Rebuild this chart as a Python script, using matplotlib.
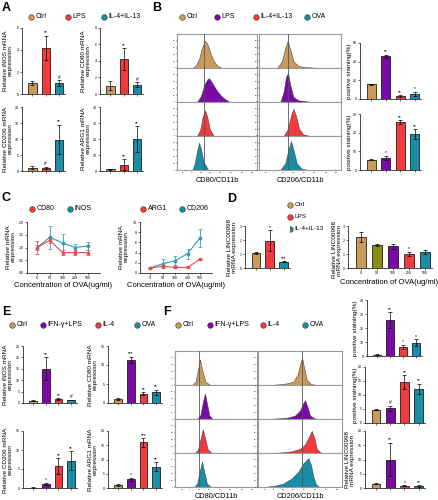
import numpy as np
import matplotlib
matplotlib.use('Agg')
import matplotlib.pyplot as plt

plt.rcParams['font.family'] = ['Liberation Sans', 'DejaVu Sans']

CTRL = '#C99A5B'
RED = '#F23B3F'
TEAL = '#1B8CA6'
PURP = '#7A0AA6'
OLIVE = '#8C8C14'
LBLUE = '#2A9BBE'
LRED = '#F2484B'

# ---- data ----
# panel A (qPCR, Ctrl / LPS / IL-4+IL-13)
a_inos = [1.0, 4.2, 1.0]
a_inos_err = [0.15, 1.1, 0.25]
a_inos_sig = ['', '**', '#']
a_cd80 = [1.0, 4.2, 1.1]
a_cd80_err = [0.55, 1.35, 0.3]
a_cd80_sig = ['', '**', '#']
a_cd206 = [1.0, 1.0, 9.8]
a_cd206_err = [0.5, 0.4, 4.6]
a_cd206_sig = ['', '#', '**']
a_arg1 = [1.0, 4.0, 20.0]
a_arg1_err = [0.3, 3.3, 8.0]
a_arg1_sig = ['', '**', '**']

# panel B (flow, Ctrl / LPS / IL-4+IL-13 / OVA)
b_cd80_pos = [16, 46, 3, 5.5]
b_cd80_err = [0.6, 1.6, 1.0, 2.0]
b_cd80_sig = ['', '**', '**', '*']
b_cd206_pos = [5.4, 6.4, 25.7, 19.3]
b_cd206_err = [0.3, 1.2, 1.0, 2.5]
b_cd206_sig = ['', '*', '**', '**']

# histogram shapes (fluorescence position, relative count)
b_hist_cd80 = [
    [(1.9, 0), (2.4, 0.08), (2.8, 0.3), (3.1, 0.58), (3.5, 0.8), (3.8, 0.7), (4.2, 0.42), (4.6, 0.2), (5.0, 0.08), (5.6, 0)],
    [(2.5, 0), (3.0, 0.18), (3.4, 0.5), (3.8, 0.67), (4.0, 0.7), (4.4, 0.56), (4.8, 0.4), (5.3, 0.24), (5.8, 0.12), (6.6, 0)],
    [(2.5, 0), (2.9, 0.18), (3.2, 0.55), (3.5, 0.75), (3.8, 0.55), (4.1, 0.2), (4.6, 0)],
    [(1.9, 0), (2.2, 0.18), (2.5, 0.55), (2.75, 0.8), (3.0, 0.62), (3.3, 0.25), (3.9, 0)],
]
b_hist_cd206 = [
    [(2.2, 0), (2.8, 0.2), (3.2, 0.6), (3.5, 0.8), (3.8, 0.55), (4.2, 0.2), (4.8, 0.06), (5.5, 0.03), (7.5, 0)],
    [(2.6, 0), (3.0, 0.3), (3.3, 0.75), (3.55, 0.85), (3.8, 0.5), (4.2, 0.15), (4.8, 0.05), (5.6, 0.03), (6.2, 0)],
    [(3.0, 0), (3.5, 0.2), (3.9, 0.6), (4.2, 0.8), (4.5, 0.6), (4.9, 0.2), (5.4, 0.05), (6.2, 0)],
    [(2.6, 0), (3.2, 0.2), (3.6, 0.6), (3.9, 0.85), (4.2, 0.6), (4.6, 0.2), (5.2, 0.04), (6.0, 0)],
]

# panel C (OVA dose)
ova_conc = ['0', '50', '100', '200', '500']
c_cd80 = [1.0, 1.28, 0.8, 0.8, 0.8]
c_cd80_err = [0.25, 0.12, 0.1, 0.1, 0.1]
c_inos = [1.0, 1.4, 1.18, 1.0, 1.06]
c_inos_err = [0.1, 0.45, 0.35, 0.12, 0.15]
c_arg1 = [1.0, 1.3, 1.1, 1.1, 2.7]
c_arg1_err = [0.1, 0.3, 0.2, 0.2, 0.1]
c_cd206 = [1.0, 1.8, 2.4, 3.8, 6.9]
c_cd206_err = [0.15, 0.9, 0.9, 1.0, 1.8]

# panel D
d_linc = [1.08, 1.95, 0.45]
d_linc_err = [0.06, 0.75, 0.03]
d_linc_sig = ['', '*', '***']
d_ova_conc = ['0', '50', '100', '250', '500']
d_linc_ova = [2.2, 1.65, 1.55, 1.0, 1.15]
d_linc_ova_err = [0.35, 0.05, 0.2, 0.15, 0.15]
d_linc_ova_sig = ['', '', '', '*', '']

# panel E (Ctrl / IFN-γ+LPS / IL-4 / OVA)
e_inos = [1.0, 15.0, 1.8, 1.3]
e_inos_err = [0.2, 5.0, 0.3, 0.2]
e_inos_sig = ['', '**', '**', '#']
e_cd80 = [1.0, 11.4, 2.5, 2.8]
e_cd80_err = [0.3, 0.8, 0.3, 0.6]
e_cd80_sig = ['', '***', '**', '**']
e_cd206 = [0.1, 1.0, 5.8, 7.2]
e_cd206_err = [0.05, 0.3, 2.0, 2.5]
e_cd206_sig = ['', '*', '**', '**']
e_arg1 = [1.0, 3.0, 16.0, 7.5]
e_arg1_err = [0.3, 0.5, 1.5, 1.5]
e_arg1_sig = ['', '*', '***', '**']

# panel F
f_cd80_pos = [1.0, 25.7, 6.4, 9.3]
f_cd80_err = [0.3, 5.5, 1.5, 2.5]
f_cd80_sig = ['', '**', '*', '*']
f_cd206_pos = [4.8, 5.2, 14.5, 12.3]
f_cd206_err = [0.3, 1.0, 2.5, 1.8]
f_cd206_sig = ['', '#', '**', '**']
f_linc = [1.5, 10.0, 0.8, 0.7]
f_linc_err = [0.1, 5.8, 0.2, 0.2]
f_linc_sig = ['', '**', '*', '**']

f_hist_cd80 = [
    [(2.1, 0), (2.5, 0.1), (2.8, 0.45), (3.05, 0.75), (3.3, 0.45), (3.7, 0.1), (4.3, 0)],
    [(2.7, 0), (3.1, 0.12), (3.4, 0.5), (3.65, 0.75), (3.9, 0.45), (4.2, 0.1), (4.6, 0)],
    [(2.4, 0), (2.8, 0.1), (3.1, 0.4), (3.4, 0.7), (3.7, 0.4), (4.0, 0.1), (4.5, 0)],
    [(2.3, 0), (2.7, 0.1), (3.0, 0.45), (3.3, 0.75), (3.6, 0.4), (3.9, 0.1), (4.4, 0)],
]
f_hist_cd206 = [
    [(1.4, 0), (2.5, 0.02), (3.5, 0.05), (4.2, 0.1), (4.7, 0.3), (5.0, 0.6), (5.25, 0.8), (5.5, 0.5), (5.8, 0.15), (6.3, 0.03), (7.0, 0)],
    [(1.0, 0), (2.5, 0.02), (3.5, 0.04), (4.4, 0.1), (5.0, 0.25), (5.35, 0.45), (5.6, 0.55), (5.9, 0.35), (6.2, 0.1), (6.7, 0.02), (7.2, 0)],
    [(1.5, 0), (3.0, 0.02), (4.0, 0.05), (5.0, 0.12), (5.6, 0.25), (6.0, 0.45), (6.4, 0.65), (6.7, 0.45), (7.0, 0.12), (7.4, 0.02), (7.8, 0)],
    [(0.8, 0), (2.0, 0.04), (3.0, 0.1), (4.0, 0.25), (4.8, 0.45), (5.4, 0.7), (6.0, 0.85), (6.3, 0.65), (6.6, 0.3), (6.9, 0.08), (7.3, 0)],
]

W, H = 438, 500
fig = plt.figure(figsize=(W / 100, H / 100), dpi=100)


def box(x0, y0, x1, y1):
    return fig.add_axes([x0 / W, 1 - y1 / H, (x1 - x0) / W, (y1 - y0) / H])


def style(ax):
    for s in ['top', 'right']:
        ax.spines[s].set_visible(False)
    for s in ['left', 'bottom']:
        ax.spines[s].set_linewidth(0.5)
    ax.tick_params(length=1.5, width=0.4, labelsize=2.5, pad=0.8)


def bars(ax, vals, errs, cols, top, yticks, sig, xlabels=None):
    x = np.arange(len(vals))
    ax.bar(x, vals, width=0.62, color=cols, edgecolor='black', linewidth=0.5, zorder=2)
    ax.errorbar(x, vals, yerr=errs, fmt='none', ecolor='black', elinewidth=0.5,
                capsize=1.2, capthick=0.5, zorder=3)
    for xi, v, e, s in zip(x, vals, errs, sig):
        if s:
            ax.text(xi, v + e + top * 0.01, s, ha='center', va='bottom', fontsize=3.5)
    ax.set_xlim(-0.78, len(vals) - 0.55)
    ax.set_ylim(0, top)
    ax.set_yticks(yticks)
    ax.set_xticks(x)
    ax.set_xticklabels(xlabels if xlabels else [''] * len(vals))
    style(ax)


def lines(ax, s1, e1, c1, s2, e2, c2, top, yticks, fmt):
    x = np.arange(len(ova_conc))
    for s, e, c in [(s1, e1, c1), (s2, e2, c2)]:
        ax.errorbar(x, s, yerr=e, color=c, marker='s', markersize=1.5, linewidth=0.8,
                    elinewidth=0.6, capsize=1.2, capthick=0.5)
    ax.set_xlim(-0.8, 4.95)
    ax.set_ylim(0, top)
    ax.set_yticks(yticks)
    ax.set_yticklabels([fmt.format(t) for t in yticks])
    ax.set_xticks(x)
    ax.set_xticklabels(ova_conc)
    style(ax)
    ax.set_xlabel('Concentration of OVA(ug/ml)', fontsize=5.5, labelpad=1)


def hist_col(x0, x1, y0, y1, curves, cols, vline, xlabel, lab_y):
    n = len(curves)
    hh = (y1 - y0) / n
    for i, (cv, c) in enumerate(zip(curves, cols)):
        ax = box(x0, y0 + i * hh, x1, y0 + (i + 1) * hh)
        xs = [p[0] for p in cv]
        ys = [p[1] for p in cv]
        ax.fill_between(xs, ys, color=c, edgecolor='#3a3a3a', linewidth=0.35, zorder=2)
        ax.axvline(vline, color='#555555', linewidth=0.6, zorder=3)
        ax.set_xlim(0, 10)
        ax.set_ylim(0, 1)
        for s in ax.spines.values():
            s.set_color('#9a9a9a')
            s.set_linewidth(0.8)
        ax.set_yticks([0, 0.2, 0.4, 0.6, 0.8])
        ax.set_yticklabels(['0', '20', '40', '60', '80'])
        ax.tick_params(length=1.0, width=0.3, labelsize=1.6, pad=0.4)
        if i < n - 1:
            ax.set_xticks([])
        else:
            ax.set_xticks([0.8, 1.8, 3.0, 4.2, 5.5, 6.8, 8.2, 9.5])
            ax.set_xticklabels(['-10³', '0', '10³', '10⁴', '10⁵', '10⁶', '10⁷', '10⁸'])
    ov.text((x0 + x1) / 2, lab_y, xlabel, fontsize=5.3, ha='center', va='center')


ov = fig.add_axes([0, 0, 1, 1])
ov.set_xlim(0, W)
ov.set_ylim(H, 0)
ov.axis('off')


def ylab(x, y, s, size=4.6):
    ov.text(x, y, s, rotation=90, ha='center', va='center', fontsize=size, linespacing=1.0)


def legend(items):
    for lx, ly, name, c in items:
        ov.scatter(lx, ly, s=16, color=c, edgecolor='#333333', linewidth=0.4)
        ov.text(lx + 4.5, ly, name, fontsize=5, va='center', ha='left')


def letter(x, y, s):
    ov.text(x, y, s, fontsize=9, fontweight='bold', ha='left', va='center')


# ---- A ----
letter(2, 8, 'A')
legend([(31, 17, 'Ctrl', CTRL), (68, 17, 'LPS', RED), (104, 17, 'IL-4+IL-13', TEAL)])
c3 = [CTRL, RED, TEAL]
bars(box(22, 28, 65, 94), a_inos, a_inos_err, c3, 6, [0, 2, 4, 6], a_inos_sig)
bars(box(100, 28, 143, 94), a_cd80, a_cd80_err, c3, 8, [0, 2, 4, 6, 8], a_cd80_sig)
bars(box(22, 107, 65, 171), a_cd206, a_cd206_err, c3, 20, [0, 5, 10, 15, 20], a_cd206_sig)
bars(box(100, 107, 143, 171), a_arg1, a_arg1_err, c3, 40, [0, 10, 20, 30, 40], a_arg1_sig)
ylab(8, 61, 'Relative iNOS mRNA\nexpression')
ylab(86, 61, 'Relative CD80 mRNA\nexpression')
ylab(8, 139, 'Relative CD206 mRNA\nexpression')
ylab(86, 139, 'Relative ARG1 mRNA\nexpression')

# ---- B ----
letter(152, 8, 'B')
legend([(182, 17, 'Ctrl', CTRL), (217, 17, 'LPS', PURP), (256, 17, 'IL-4+IL-13', RED), (307, 17, 'OVA', TEAL)])
c4 = [CTRL, PURP, RED, TEAL]
hist_col(177, 257, 34, 170, b_hist_cd80, c4, 3.4, 'CD80/CD11b', 180)
hist_col(259, 341, 34, 170, b_hist_cd206, c4, 3.5, 'CD206/CD11b', 180)
bars(box(360, 43, 421, 99), b_cd80_pos, b_cd80_err, c4, 60, [0, 20, 40, 60], b_cd80_sig)
bars(box(360, 114, 421, 170), b_cd206_pos, b_cd206_err, c4, 30, [0, 10, 20, 30], b_cd206_sig)
ylab(349, 71, 'positive staining(%)')
ylab(349, 142, 'positive staining(%)')

# ---- C ----
letter(2, 198, 'C')
legend([(32, 209, 'CD80', RED), (70, 209, 'iNOS', TEAL), (143, 209, 'ARG1', RED), (182, 209, 'CD206', TEAL)])
lines(box(27, 222, 100, 273), c_inos, c_inos_err, LBLUE, c_cd80, c_cd80_err, LRED, 2.0,
      [0, 0.5, 1.0, 1.5, 2.0], '{:.1f}')
lines(box(140, 222, 212, 273), c_cd206, c_cd206_err, LBLUE, c_arg1, c_arg1_err, LRED, 10,
      [0, 2, 4, 6, 8, 10], '{:d}')
ylab(11, 247, 'Relative mRNA\nexpression')
ylab(124, 247, 'Relative mRNA\nexpression')

# ---- D ----
letter(227, 199, 'D')
for yy, name, c in zip([205, 217, 229], ['Ctrl', 'LPS', 'IL-4+IL-13'], c3):
    ov.scatter(290, yy, s=16, color=c, edgecolor='#333333', linewidth=0.4)
    ov.text(294.5, yy, name, fontsize=4.6, va='center')
bars(box(245, 226, 290, 268), d_linc, d_linc_err, c3, 3, [0, 1, 2, 3], d_linc_sig)
bars(box(348, 226, 432, 268), d_linc_ova, d_linc_ova_err, [CTRL, OLIVE, PURP, RED, TEAL], 3,
     [0, 1, 2, 3], d_linc_ova_sig, d_ova_conc)
ylab(232, 247, 'Relative LINC00998\nmRNA expression')
ylab(337, 250, 'Relative LINC00998\nmRNA expression')
ov.text(389, 282, 'Concentration of OVA(ug/ml)', fontsize=5.5, ha='center', va='center')

# ---- E ----
letter(2, 312, 'E')
legend([(12, 325, 'Ctrl', CTRL), (43, 325, 'IFN-γ+LPS', PURP), (98, 325, 'IL-4', RED), (137, 325, 'OVA', TEAL)])
bars(box(23, 346, 77, 403), e_inos, e_inos_err, c4, 25, [0, 5, 10, 15, 20, 25], e_inos_sig)
bars(box(108, 346, 162, 403), e_cd80, e_cd80_err, c4, 15, [0, 5, 10, 15], e_cd80_sig)
bars(box(23, 431, 77, 488), e_cd206, e_cd206_err, c4, 15, [0, 5, 10, 15], e_cd206_sig)
bars(box(108, 431, 162, 488), e_arg1, e_arg1_err, c4, 20, [0, 5, 10, 15, 20], e_arg1_sig)
ylab(8, 375, 'Relative iNOS mRNA\nexpression')
ylab(93, 375, 'Relative CD80 mRNA\nexpression')
ylab(8, 460, 'Relative CD206 mRNA\nexpression')
ylab(93, 460, 'Relative ARG1 mRNA\nexpression')

# ---- F ----
letter(163, 312, 'F')
legend([(178, 325, 'Ctrl', CTRL), (210, 325, 'IFN-γ+LPS', PURP), (263, 325, 'IL-4', RED), (305, 325, 'OVA', TEAL)])
hist_col(175, 257, 351, 487, f_hist_cd80, c4, 2.9, 'CD80/CD11b', 496)
hist_col(258, 342, 351, 487, f_hist_cd206, c4, 5.2, 'CD206/CD11b', 496)
bars(box(367, 300, 422, 356), f_cd80_pos, f_cd80_err, c4, 40, [0, 10, 20, 30, 40], f_cd80_sig)
bars(box(365, 367, 425, 423), f_cd206_pos, f_cd206_err, c4, 20, [0, 5, 10, 15, 20], f_cd206_sig)
bars(box(365, 431, 425, 488), f_linc, f_linc_err, c4, 20, [0, 5, 10, 15, 20], f_linc_sig)
ylab(356, 328, 'positive staining(%)')
ylab(355, 395, 'positive staining(%)')
ylab(350, 460, 'Relative LINC00998\nmRNA expression')

fig.savefig('out.png', dpi=100)
